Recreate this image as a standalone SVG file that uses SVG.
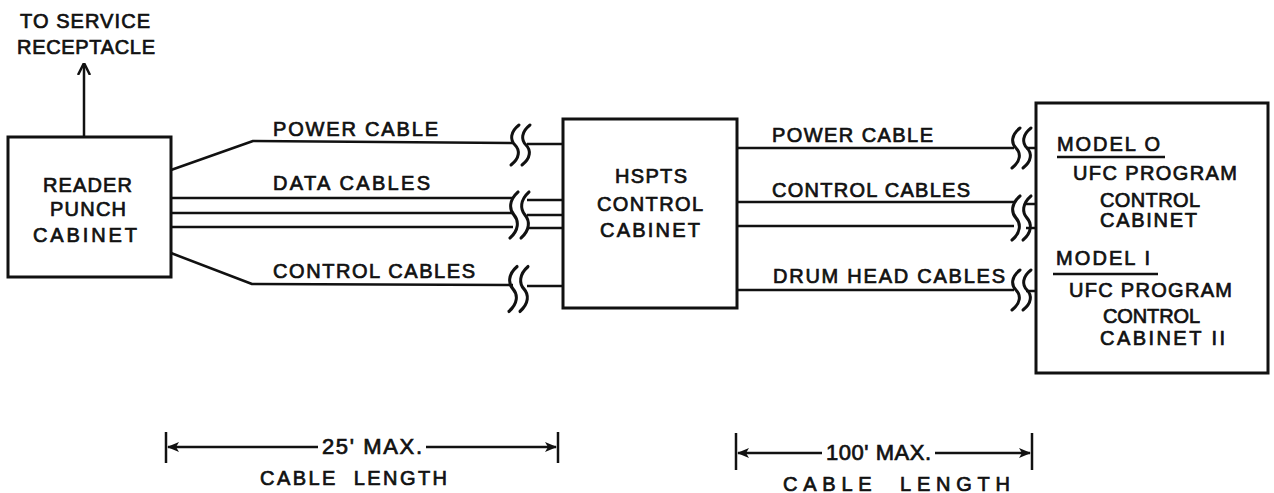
<svg xmlns="http://www.w3.org/2000/svg" xmlns:xlink="http://www.w3.org/1999/xlink" width="1274" height="493" viewBox="0 0 1274 493">
<style>
  text { font-family: "Liberation Sans", "DejaVu Sans", sans-serif; font-size: 20px; fill: #111; stroke: #111; stroke-width: 0.7; }
  .ln { fill: none; stroke: #111; stroke-width: 2.5; stroke-linejoin: round; }
  .box { fill: #fff; stroke: #111; stroke-width: 3; }
  .brk { fill: none; stroke: #111; stroke-width: 3; stroke-linecap: round; }
</style>
<defs>
  <marker id="ah" viewBox="0 0 12 12" refX="11" refY="6" markerWidth="12" markerHeight="12" markerUnits="userSpaceOnUse" orient="auto">
    <path d="M0,1 L12,6 L0,11 L3,6 Z" fill="#111"/>
  </marker>
  <marker id="up" viewBox="0 0 12 14" refX="11" refY="7" markerWidth="12" markerHeight="14" markerUnits="userSpaceOnUse" orient="auto">
    <path d="M0,1 L12,7 L0,13" fill="none" stroke="#111" stroke-width="2.5"/>
  </marker>
  <path id="brk" class="brk" d="M4,-20 C-5,-13 -5,-5 0,0 C5,5 5,13 -4,20"/>
</defs>

<g id="connectors">
  <line class="ln" x1="84" y1="137" x2="84" y2="64" marker-end="url(#up)"/>
  <!-- left side -->
  <polyline class="ln" points="171,170 253,141 514,143"/>
  <line class="ln" x1="527" y1="144" x2="563" y2="144"/>
  <line class="ln" x1="171" y1="198" x2="513" y2="198"/>
  <line class="ln" x1="527" y1="200" x2="563" y2="200"/>
  <line class="ln" x1="171" y1="213" x2="513" y2="213"/>
  <line class="ln" x1="527" y1="215" x2="563" y2="215"/>
  <line class="ln" x1="171" y1="227" x2="513" y2="227"/>
  <line class="ln" x1="527" y1="228" x2="563" y2="228"/>
  <polyline class="ln" points="171,253 252,284 513,285"/>
  <line class="ln" x1="527" y1="286" x2="563" y2="286"/>
  <use xlink:href="#brk" transform="translate(515,145)"/>
  <use xlink:href="#brk" transform="translate(526,145)"/>
  <use xlink:href="#brk" transform="translate(514,215) scale(1,1.15)"/>
  <use xlink:href="#brk" transform="translate(525,215) scale(1,1.15)"/>
  <use xlink:href="#brk" transform="translate(513,289) scale(1,1.12)"/>
  <use xlink:href="#brk" transform="translate(524,289) scale(1,1.12)"/>
  <!-- right side -->
  <line class="ln" x1="737" y1="148" x2="1014" y2="148"/>
  <line class="ln" x1="1026" y1="148" x2="1036" y2="148"/>
  <line class="ln" x1="737" y1="202" x2="1014" y2="202"/>
  <line class="ln" x1="1026" y1="204" x2="1036" y2="204"/>
  <line class="ln" x1="737" y1="226" x2="1014" y2="226"/>
  <line class="ln" x1="1026" y1="228" x2="1036" y2="228"/>
  <line class="ln" x1="737" y1="290" x2="1014" y2="290"/>
  <line class="ln" x1="1026" y1="291" x2="1036" y2="291"/>
  <use xlink:href="#brk" transform="translate(1016,148)"/>
  <use xlink:href="#brk" transform="translate(1027,148)"/>
  <use xlink:href="#brk" transform="translate(1016,218) scale(1,1.1)"/>
  <use xlink:href="#brk" transform="translate(1027,218) scale(1,1.1)"/>
  <use xlink:href="#brk" transform="translate(1016,290)"/>
  <use xlink:href="#brk" transform="translate(1027,290)"/>
  <!-- cable labels -->
  <text x="273" y="136" textLength="165" lengthAdjust="spacing">POWER CABLE</text>
  <text x="273" y="190" textLength="157" lengthAdjust="spacing">DATA CABLES</text>
  <text x="273" y="278" textLength="202" lengthAdjust="spacing">CONTROL CABLES</text>
  <text x="772" y="142" textLength="161" lengthAdjust="spacing">POWER CABLE</text>
  <text x="772" y="197" textLength="198" lengthAdjust="spacing">CONTROL CABLES</text>
  <text x="773" y="283" textLength="232" lengthAdjust="spacing">DRUM HEAD CABLES</text>
</g>

<g id="service">
  <text x="20" y="28" textLength="130" lengthAdjust="spacing">TO SERVICE</text>
  <text x="17" y="54" textLength="138" lengthAdjust="spacing">RECEPTACLE</text>
</g>

<g id="reader-punch">
  <rect class="box" x="8" y="137" width="163" height="140"/>
  <text x="43" y="192" textLength="89" lengthAdjust="spacing">READER</text>
  <text x="50" y="216" textLength="76" lengthAdjust="spacing">PUNCH</text>
  <text x="33" y="242" textLength="104" lengthAdjust="spacing">CABINET</text>
</g>

<g id="hspts">
  <rect class="box" x="563" y="119" width="174" height="189"/>
  <text x="615" y="183" textLength="72" lengthAdjust="spacing">HSPTS</text>
  <text x="597" y="211" textLength="106" lengthAdjust="spacing">CONTROL</text>
  <text x="600" y="237" textLength="100" lengthAdjust="spacing">CABINET</text>
</g>

<g id="ufc">
  <rect class="box" x="1036" y="103" width="232" height="270"/>
  <text x="1057" y="151" textLength="103" lengthAdjust="spacing">MODEL O</text>
  <line class="ln" x1="1057" y1="157" x2="1165" y2="157"/>
  <text x="1073" y="180" textLength="164" lengthAdjust="spacing">UFC PROGRAM</text>
  <text x="1100" y="207" textLength="100" lengthAdjust="spacing">CONTROL</text>
  <text x="1100" y="227" textLength="97" lengthAdjust="spacing">CABINET</text>
  <text x="1056" y="265" textLength="94" lengthAdjust="spacing">MODEL I</text>
  <line class="ln" x1="1053" y1="274" x2="1158" y2="274"/>
  <text x="1069" y="297" textLength="163" lengthAdjust="spacing">UFC PROGRAM</text>
  <text x="1103" y="323" textLength="97" lengthAdjust="spacing">CONTROL</text>
  <text x="1100" y="345" textLength="125" lengthAdjust="spacing">CABINET II</text>
</g>

<g id="dim-25">
  <line class="ln" x1="166" y1="432" x2="166" y2="463"/>
  <line class="ln" x1="558" y1="432" x2="558" y2="463"/>
  <line class="ln" x1="318" y1="447" x2="168" y2="447" marker-end="url(#ah)"/>
  <line class="ln" x1="426" y1="447" x2="556" y2="447" marker-end="url(#ah)"/>
  <text x="322" y="454" textLength="100" lengthAdjust="spacing" style="font-size:22px">25' MAX.</text>
  <text x="260" y="485" textLength="187" lengthAdjust="spacing" xml:space="preserve">CABLE  LENGTH</text>
</g>

<g id="dim-100">
  <line class="ln" x1="736" y1="433" x2="736" y2="470"/>
  <line class="ln" x1="1032" y1="433" x2="1032" y2="470"/>
  <line class="ln" x1="822" y1="453" x2="738" y2="453" marker-end="url(#ah)"/>
  <line class="ln" x1="935" y1="453" x2="1030" y2="453" marker-end="url(#ah)"/>
  <text x="826" y="460" textLength="105" lengthAdjust="spacing" style="font-size:22px">100' MAX.</text>
  <text x="783" y="491" textLength="227" lengthAdjust="spacing" xml:space="preserve">CABLE  LENGTH</text>
</g>
</svg>
